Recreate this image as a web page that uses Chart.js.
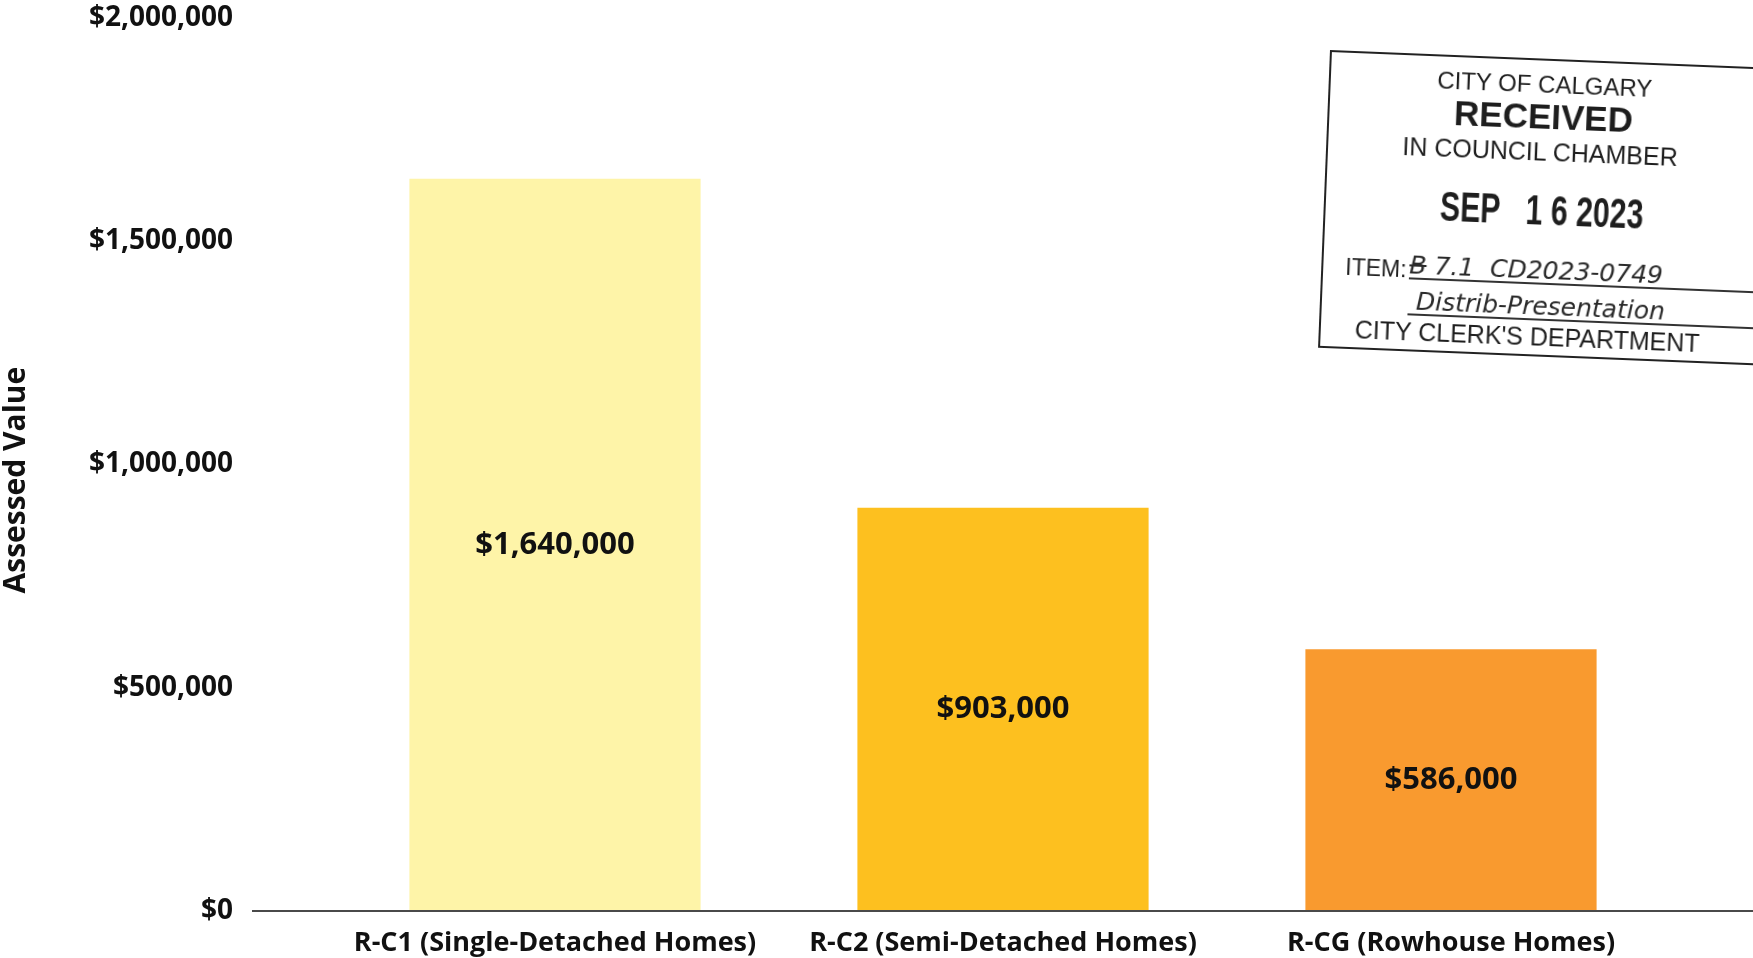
<!DOCTYPE html>
<html>
<head>
<meta charset="utf-8">
<script src="https://cdn.jsdelivr.net/npm/chart.js@4.4.0/dist/chart.umd.min.js"></script>
<style>
  html, body { margin: 0; padding: 0; background: #fff; }
  #wrap { position: relative; width: 1753px; height: 958px; overflow: hidden; }
  #stamp {
    position: absolute; left: 1330px; top: 50px; width: 440px; height: 298px;
    border: 2px solid #222; box-sizing: border-box;
    transform: rotate(2.3deg); transform-origin: 0 0;
    font-family: "Liberation Sans", Arial, sans-serif; color: #1e1e1e;
  }
  #stamp div { position: absolute; white-space: nowrap; line-height: 1; }
  .c { transform: translate(-50%, -50%); }
  .date { transform: translate(-50%, -50%) scaleX(0.72); }
  .hand { font-family: "DejaVu Sans", sans-serif; font-style: italic; font-weight: 300; font-size: 25px; color: #2a2a2a; }
</style>
</head>
<body>
<div id="wrap">
  <canvas id="myChart" width="1753" height="958"></canvas>
  <div id="stamp">
    <div class="c" style="left:214px; top:24px; font-size:24px;">CITY OF CALGARY</div>
    <div class="c" style="left:214px; top:55px; font-size:35px; font-weight:bold;">RECEIVED</div>
    <div class="c" style="left:212px; top:91px; font-size:25px;">IN COUNCIL CHAMBER</div>
    <div class="date" style="left:216px; top:150px; font-size:42px; font-weight:bold;">SEP&nbsp;&nbsp; 1 6 2023</div>
    <div style="left:22px; top:203px; font-size:23px;">ITEM:</div>
    <div class="hand" style="left:86px; top:197px; border-bottom:2px solid #333; width:360px;"><s>B</s> 7.1&nbsp; CD2023-0749</div>
    <div class="hand" style="left:86px; top:233px; border-bottom:2px solid #333; width:360px;">&nbsp;Distrib-Presentation</div>
    <div style="left:34px; top:264px; font-size:25px;">CITY CLERK'S DEPARTMENT</div>
  </div>
</div>
<script>
const categories = ['R-C1 (Single-Detached Homes)', 'R-C2 (Semi-Detached Homes)', 'R-CG (Rowhouse Homes)'];
const assessedValues = [1640000, 903000, 586000];
const barColors = ['#FEF4A8', '#FDC01F', '#F99A2F'];
const yTicks = [0, 500000, 1000000, 1500000, 2000000];

const money = (v) => '$' + v.toLocaleString('en-US');
const fontFamily = "'Open Sans', 'Noto Sans', sans-serif";

// value labels in the middle of each bar
const barLabels = {
    id: 'barLabels',
    afterDatasetsDraw(chart) {
        const ctx = chart.ctx;
        const meta = chart.getDatasetMeta(0);
        ctx.save();
        ctx.font = `bold 31px ${fontFamily}`;
        ctx.fillStyle = '#111';
        ctx.textAlign = 'center';
        ctx.textBaseline = 'middle';
        meta.data.forEach((bar, i) => {
            ctx.fillText(money(assessedValues[i]), bar.x, (bar.y + bar.base) / 2);
        });
        ctx.restore();
    }
};

// baseline runs wider than the category area
const baseLine = {
    id: 'baseLine',
    afterDatasetsDraw(chart, args, opts) {
        const ctx = chart.ctx;
        const y = chart.scales.y.getPixelForValue(0);
        ctx.save();
        ctx.strokeStyle = '#4a4a4a';
        ctx.lineWidth = 2;
        ctx.beginPath();
        ctx.moveTo(opts.start, y);
        ctx.lineTo(chart.width, y);
        ctx.stroke();
        ctx.restore();
    }
};

const data = {
    labels: categories,
    datasets: [{
        label: 'Assessed Value',
        data: assessedValues,
        backgroundColor: barColors,
        borderWidth: 0,
        categoryPercentage: 1,
        barPercentage: 0.65
    }]
};

const config = {
    type: 'bar',
    data: data,
    options: {
        responsive: false,
        animation: false,
        layout: { padding: { top: 18, right: 78, left: 0, bottom: 0 } },
        plugins: {
            legend: { display: false },
            tooltip: { enabled: false },
            baseLine: { start: 252 }
        },
        scales: {
            x: {
                afterFit: (axis) => { axis.height = 47; },
                grid: { display: false, drawTicks: false },
                border: { display: false },
                ticks: {
                    color: '#111',
                    padding: 16,
                    maxRotation: 0,
                    font: { family: fontFamily, weight: 'bold', size: 27 }
                }
            },
            y: {
                min: 0,
                max: 2000000,
                afterFit: (axis) => { axis.width = 331; },
                afterBuildTicks: (axis) => { axis.ticks = yTicks.map((v) => ({ value: v })); },
                grid: { display: false, drawTicks: true, tickLength: 94 },
                border: { display: false },
                ticks: {
                    color: '#111',
                    padding: 4,
                    font: { family: fontFamily, weight: 'bold', size: 28, lineHeight: 1 },
                    callback: (v) => money(v)
                },
                title: {
                    display: true,
                    // trailing spaces nudge the title a little lower, as in the original
                    text: 'Assessed Value\u00A0\u00A0\u00A0\u00A0',
                    color: '#111',
                    padding: { top: 0, bottom: 0 },
                    font: { family: fontFamily, weight: 'bold', size: 30, lineHeight: 1.1 }
                }
            }
        }
    },
    plugins: [barLabels, baseLine]
};

new Chart(document.getElementById('myChart'), config);
</script>
</body>
</html>
